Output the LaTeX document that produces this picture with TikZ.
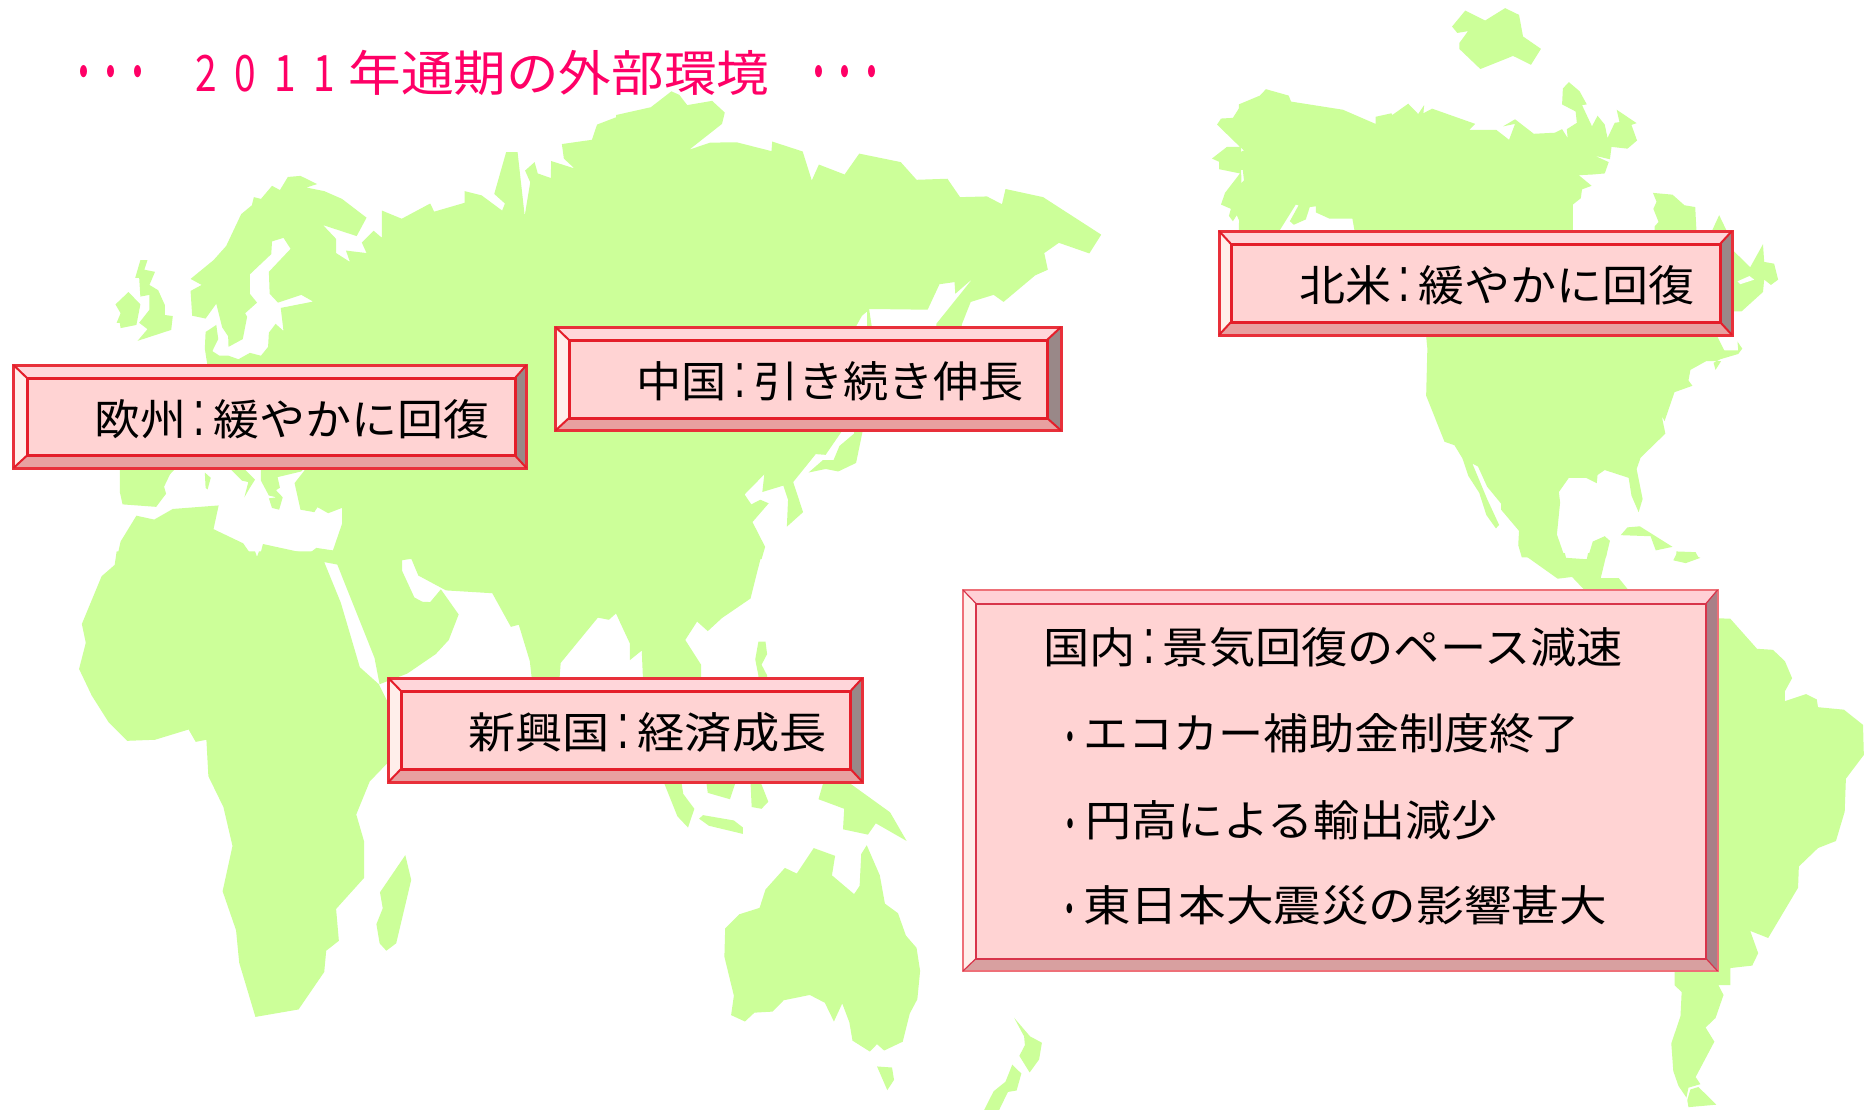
\documentclass[tikz,border=0pt]{standalone}
\usepackage{fontspec}
\usepackage{graphicx}
\setmainfont{Noto Sans CJK JP}
\newfontfamily\clnfont{Liberation Sans}
\definecolor{land}{HTML}{CCFF99}
\definecolor{titlecol}{HTML}{FF0066}
\definecolor{bvFace}{HTML}{FFD3D3}
\definecolor{bvTop}{HTML}{FFD6DA}
\definecolor{bvLeft}{HTML}{FFEEEA}
\definecolor{bvRight}{HTML}{998888}
\definecolor{bvBottom}{HTML}{E8A0A0}
\definecolor{bvLine}{HTML}{E41E2A}
\definecolor{bvOuter}{HTML}{E8303A}
\newcommand{\bevel}[8]{%
  \fill[bvFace] (#5,#6) rectangle (#7,#8);
  \fill[bvTop] (#1,#2) -- (#3,#2) -- (#7,#6) -- (#5,#6) -- cycle;
  \fill[bvLeft] (#1,#2) -- (#5,#6) -- (#5,#8) -- (#1,#4) -- cycle;
  \fill[bvRight] (#3,#2) -- (#3,#4) -- (#7,#8) -- (#7,#6) -- cycle;
  \fill[bvBottom] (#1,#4) -- (#3,#4) -- (#7,#8) -- (#5,#8) -- cycle;
  \draw[bvOuter,bvoutline] (#1,#2) rectangle (#3,#4);
  \draw[bvLine,bvinline] (#5,#6) rectangle (#7,#8);
  \draw[bvLine,bvcorner] (#1,#2) -- (#5,#6) (#3,#2) -- (#7,#6) (#1,#4) -- (#5,#8) (#3,#4) -- (#7,#8);
}
\newcommand{\sq}[2][1]{\scalebox{#1}[0.93]{#2}}
\newcommand{\cln}{\makebox[27pt][c]{\scalebox{0.9}[1.5]{\clnfont :}}}
\newcommand{\bul}{\makebox[30pt][c]{\raisebox{-11pt}{\scalebox{0.7}[1.4]{･}}}}
\newcommand{\tdot}{\makebox[26.7pt][c]{\raisebox{-8pt}{\scalebox{0.8}[1.5]{･}}}}
\newcommand{\tdig}[1]{\makebox[39.5pt][c]{\scalebox{0.72}[1]{\fontsize{54pt}{54pt}\selectfont #1}}}
\tikzset{
  landfill/.style={fill=land,draw=none},
  cropL/.style={x=0.3954pt,y=-0.35395pt},
  cropR/.style={x=0.3986pt,y=-0.35395pt},
  bvoutline/.style={line width=3pt,line join=miter},
  bvinline/.style={line width=3pt,line join=miter},
  bvcorner/.style={line width=2pt},
  boxtext/.style={font=\fontsize{46pt}{50pt}\selectfont,text=black,inner sep=0pt,anchor=base west},
  titletext/.style={font=\fontsize{52.6pt}{56pt}\selectfont,text=titlecol,inner sep=0pt,anchor=base west}
}
\begin{document}
\begin{tikzpicture}[x=1pt,y=-1pt]
\useasboundingbox (0,0) rectangle (1865,1110);
\fill[white] (0,0) rectangle (1865,1110);
% crop 1
\begin{scope}[cropL]
\fill[landfill] (1580,322) -- (1510,352) -- (1497,395) -- (1421,407) -- (1426,448) -- (1453,476) -- (1394,455) -- (1393,503) -- (1360,490) -- (1352,458) -- (1328,482) -- (1341,515) -- (1327,610) -- (1309,430) -- (1280,430) -- (1250,548) -- (1277,575) -- (1270,595) -- (1218,552) -- (1175,540) -- (1175,573) -- (1098,598) -- (1088,575) -- (1016,618) -- (966,595) -- (966,672) -- (945,652) -- (915,685) -- (927,715) -- (875,708) -- (885,740) -- (850,715) -- (850,675) -- (817,636) -- (902,667) -- (927,615) -- (865,562) -- (820,540) -- (775,530) -- (802,520) -- (760,497) -- (728,500) -- (708,537) -- (688,525) -- (660,562) -- (642,557) -- (637,580) -- (610,605) -- (572,695) -- (540,735) -- (482,788) -- (510,805) -- (482,822) -- (486,892) -- (520,900) -- (547,858) -- (562,925) -- (577,950) -- (578,980) -- (614,958) -- (625,895) -- (620,885) -- (650,855) -- (632,830) -- (632,775) -- (686,718) -- (688,682) -- (717,672) -- (735,703) -- (680,768) -- (682,830) -- (703,855) -- (762,833) -- (792,852) -- (710,870) -- (717,935) -- (697,915) -- (680,940) -- (678,980) -- (660,1005) -- (632,997) -- (603,1015) -- (578,1005) -- (555,1005) -- (537,992) -- (552,958) -- (547,918) -- (520,938) -- (518,985) -- (525,1035) -- (500,1100) -- (303,1300) -- (303,1390) -- (310,1425) -- (395,1432) -- (420,1395) -- (415,1375) -- (430,1340) -- (445,1322) -- (580,1322) -- (612,1358) -- (628,1362) -- (618,1405) -- (632,1378) -- (645,1355) -- (615,1322) -- (660,1322) -- (660,1358) -- (680,1400) -- (700,1405) -- (680,1408) -- (688,1435) -- (706,1440) -- (715,1405) -- (698,1385) -- (708,1378) -- (702,1348) -- (762,1332) -- (770,1322) -- (775,1322) -- (745,1365) -- (760,1440) -- (795,1447) -- (803,1433) -- (830,1450) -- (865,1435) -- (865,1480) -- (842,1555) -- (800,1548) -- (780,1565) -- (665,1537) -- (655,1580) -- (643,1580) -- (615,1535) -- (540,1495) -- (553,1428) -- (437,1438) -- (390,1468) -- (345,1457) -- (305,1530) -- (295,1580) -- (1580,1580) -- cycle;
\fill[landfill] (355,735) -- (373,735) -- (365,762) -- (392,768) -- (378,805) -- (400,820) -- (417,862) -- (417,890) -- (437,893) -- (433,932) -- (348,963) -- (373,930) -- (352,912) -- (378,875) -- (378,833) -- (355,838) -- (352,785) -- (342,785) -- cycle;
\fill[landfill] (325,825) -- (355,860) -- (345,918) -- (305,927) -- (303,912) -- (295,912) -- (305,885) -- (292,860) -- cycle;
\fill[landfill] (518,1335) -- (533,1350) -- (525,1383) -- (520,1378) -- cycle;
\end{scope}
% crop 2
\begin{scope}[cropL,xshift=620pt]
\fill[landfill] (-10,325) -- (78,303) -- (130,258) -- (150,268) -- (170,297) -- (233,285) -- (265,318) -- (258,350) -- (175,423) -- (228,403) -- (295,402) -- (383,427) -- (385,400) -- (462,428) -- (485,510) -- (503,465) -- (568,493) -- (605,434) -- (710,458) -- (750,508) -- (828,505) -- (860,557) -- (928,555) -- (966,577) -- (975,534) -- (1070,557) -- (1217,663) -- (1187,716) -- (1110,686) -- (1073,715) -- (1082,762) -- (1050,778) -- (970,853) -- (945,833) -- (887,853) -- (865,915) -- (850,1000) -- (800,1000) -- (800,915) -- (892,787) -- (848,830) -- (846,797) -- (808,803) -- (778,875) -- (630,873) -- (637,925) -- (625,925) -- (625,880) -- (612,892) -- (598,920) -- (560,1100) -- (560,1220) -- (520,1285) -- (495,1283) -- (438,1362) -- (463,1447) -- (422,1488) -- (425,1412) -- (413,1372) -- (360,1390) -- (365,1340) -- (315,1397) -- (332,1425) -- (355,1412) -- (376,1422) -- (335,1475) -- (367,1545) -- (358,1580) -- (-10,1580) -- cycle;
\fill[landfill] (617,1200) -- (597,1308) -- (552,1332) -- (520,1325) -- (477,1335) -- (513,1300) -- (540,1300) -- (555,1260) -- (592,1225) -- (592,1200) -- cycle;
\fill[landfill] (1570,298) -- (1550,333) -- (1520,335) -- (1510,352) -- (1568,415) -- (1535,415) -- (1497,448) -- (1515,457) -- (1515,478) -- (1568,490) -- (1530,545) -- (1520,578) -- (1545,590) -- (1540,610) -- (1550,625) -- (1560,608) -- (1572,640) -- cycle;
\end{scope}
% crop 3
\begin{scope}[cropR,xshift=1240pt]
\fill[landfill] (565,30) -- (615,58) -- (665,23) -- (700,42) -- (710,103) -- (755,138) -- (730,183) -- (685,158) -- (603,195) -- (550,138) -- (550,122) -- (572,88) -- (545,93) -- (532,75) -- cycle;
\fill[landfill] (-3,295) -- (50,270) -- (65,252) -- (122,270) -- (128,287) -- (258,310) -- (340,350) -- (340,330) -- (380,320) -- (382,325) -- (422,293) -- (447,322) -- (462,297) -- (460,320) -- (482,307) -- (590,350) -- (575,367) -- (643,367) -- (675,395) -- (690,350) -- (660,357) -- (690,337) -- (737,378) -- (790,375) -- (808,365) -- (822,390) -- (820,365) -- (845,347) -- (842,315) -- (808,295) -- (810,250) -- (825,232) -- (852,258) -- (870,295) -- (858,297) -- (883,357) -- (897,327) -- (915,352) -- (922,390) -- (940,347) -- (952,345) -- (945,310) -- (995,348) -- (982,353) -- (996,397) -- (972,420) -- (932,415) -- (928,450) -- (890,440) -- (925,458) -- (915,490) -- (885,493) -- (850,495) -- (882,525) -- (858,535) -- (855,560) -- (835,578) -- (835,700) -- (1040,700) -- (1040,640) -- (1050,627) -- (1037,590) -- (1045,570) -- (1036,545) -- (1085,550) -- (1115,580) -- (1142,585) -- (1145,650) -- (1185,650) -- (1202,608) -- (1220,650) -- (1230,700) -- (1280,755) -- (1312,690) -- (1315,740) -- (1340,745) -- (1350,790) -- (1332,805) -- (1315,790) -- (1312,825) -- (1258,880) -- (1230,880) -- (1197,950) -- (1215,990) -- (1250,990) -- (1248,965) -- (1260,985) -- (1250,1000) -- (1205,1015) -- (1188,1025) -- (1193,1045) -- (1207,1020) -- (1170,1020) -- (1130,1045) -- (1125,1075) -- (1135,1090) -- (1090,1108) -- (1065,1190) -- (1058,1175) -- (1067,1225) -- (1005,1293) -- (995,1325) -- (1010,1410) -- (1000,1447) -- (982,1400) -- (975,1350) -- (915,1328) -- (897,1342) -- (895,1365) -- (868,1350) -- (825,1350) -- (800,1390) -- (803,1420) -- (795,1510) -- (815,1575) -- (707,1575) -- (698,1540) -- (700,1500) -- (655,1440) -- (655,1423) -- (620,1375) -- (597,1318) -- (583,1310) -- (620,1410) -- (650,1483) -- (642,1493) -- (618,1455) -- (600,1392) -- (573,1345) -- (558,1295) -- (538,1258) -- (513,1248) -- (467,1118) -- (470,985) -- (467,950) -- (287,650) -- (282,618) -- (225,618) -- (190,600) -- (190,583) -- (175,585) -- (165,620) -- (135,635) -- (125,625) -- (147,580) -- (140,578) -- (100,650) -- (-3,650) -- (0,520) -- (10,510) -- (7,480) -- (0,480) -- (0,430) -- (10,425) -- (0,415) -- cycle;
\fill[white] (1248,795) -- (1278,780) -- (1290,790) -- (1255,803) -- cycle;
\fill[landfill] (873,1575) -- (885,1530) -- (915,1515) -- (928,1528) -- (918,1575) -- cycle;
\fill[landfill] (955,1512) -- (972,1490) -- (1003,1487) -- (1085,1545) -- (1043,1555) -- (1030,1515) -- cycle;
\fill[landfill] (1095,1558) -- (1143,1560) -- (1150,1575) -- (1095,1575) -- cycle;
\end{scope}
% crop 4
\begin{scope}[cropL,yshift=-555pt]
\fill[landfill] (295,-10) -- (290,28) -- (257,60) -- (207,195) -- (217,248) -- (200,322) -- (232,397) -- (275,473) -- (322,525) -- (392,522) -- (477,493) -- (495,528) -- (522,522) -- (527,625) -- (565,712) -- (588,822) -- (563,950) -- (597,1060) -- (605,1152) -- (646,1305) -- (755,1284) -- (820,1178) -- (825,1118) -- (857,1090) -- (850,1000) -- (921,912) -- (921,810) -- (901,733) -- (935,640) -- (978,590) -- (1000,600) -- (1000,420) -- (978,410) -- (958,365) -- (910,317) -- (862,135) -- (820,20) -- (853,27) -- (947,290) -- (960,365) -- (1030,335) -- (1102,280) -- (1135,240) -- (1160,168) -- (1115,97) -- (1088,133) -- (1068,132) -- (1048,120) -- (1017,45) -- (1017,15) -- (1040,10) -- (1058,58) -- (1128,100) -- (1245,108) -- (1292,203) -- (1312,197) -- (1340,300) -- (1345,350) -- (1415,350) -- (1418,305) -- (1512,177) -- (1540,183) -- (1558,165) -- (1580,200) -- (1580,-10) -- (655,-10) -- (650,5) -- (645,-10) -- cycle;
\fill[landfill] (1025,848) -- (1040,918) -- (1002,1097) -- (977,1118) -- (960,1097) -- (952,1043) -- (968,998) -- (961,953) -- cycle;
\end{scope}
% crop 5
\begin{scope}[cropL,xshift=620pt,yshift=-555pt]
\fill[landfill] (-10,-10) -- (360,-10) -- (330,123) -- (258,178) -- (222,215) -- (195,188) -- (165,240) -- (205,310) -- (205,400) -- (60,400) -- (55,270) -- (25,297) -- (25,250) -- (0,190) -- (-10,165) -- cycle;
\fill[landfill] (350,245) -- (368,245) -- (372,280) -- (358,310) -- (372,340) -- (372,400) -- (350,400) -- (350,340) -- (342,295) -- cycle;
\fill[landfill] (110,640) -- (155,640) -- (160,675) -- (188,717) -- (172,770) -- (145,738) -- cycle;
\fill[landfill] (200,745) -- (210,735) -- (288,750) -- (311,770) -- (311,788) -- (225,765) -- cycle;
\fill[landfill] (218,640) -- (293,640) -- (278,690) -- (222,672) -- cycle;
\fill[landfill] (330,640) -- (355,640) -- (375,697) -- (358,717) -- (333,712) -- cycle;
\fill[landfill] (515,640) -- (575,640) -- (683,727) -- (725,808) -- (647,758) -- (627,790) -- (564,775) -- (567,717) -- (502,690) -- cycle;
\fill[landfill] (490,828) -- (544,850) -- (536,905) -- (592,958) -- (606,935) -- (610,845) -- (624,820) -- (657,905) -- (670,985) -- (703,1012) -- (723,1075) -- (750,1110) -- (759,1175) -- (752,1255) -- (733,1295) -- (715,1375) -- (668,1400) -- (650,1382) -- (632,1403) -- (588,1372) -- (580,1320) -- (562,1267) -- (541,1318) -- (518,1265) -- (480,1243) -- (414,1258) -- (386,1290) -- (340,1293) -- (316,1318) -- (281,1300) -- (288,1245) -- (264,1135) -- (266,1055) -- (302,1015) -- (353,997) -- (368,945) -- (417,884) -- (447,900) -- cycle;
\fill[landfill] (650,1445) -- (688,1448) -- (693,1483) -- (676,1512) -- cycle;
\fill[landfill] (997,1308) -- (1037,1360) -- (1067,1378) -- (1060,1425) -- (1036,1462) -- (1010,1415) -- (1024,1385) -- (1022,1360) -- cycle;
\fill[landfill] (992,1440) -- (1015,1465) -- (1003,1513) -- (981,1517) -- (958,1570) -- (920,1570) -- (945,1515) -- (975,1488) -- cycle;
\end{scope}
% crop 6
\begin{scope}[cropR,xshift=1240pt,yshift=-555pt]
\fill[landfill] (707,-5) -- (797,67) -- (833,62) -- (865,100) -- (975,100) -- (950,65) -- (905,65) -- (920,-5) -- (873,-5) -- (870,12) -- (818,8) -- (815,-5) -- cycle;
\fill[landfill] (1087,15) -- (1118,23) -- (1155,8) -- (1130,-3) -- (1095,-3) -- cycle;
\fill[landfill] (1100,175) -- (1230,180) -- (1297,265) -- (1337,268) -- (1367,300) -- (1385,348) -- (1367,385) -- (1367,413) -- (1420,393) -- (1447,408) -- (1450,430) -- (1515,437) -- (1563,480) -- (1565,565) -- (1520,632) -- (1517,725) -- (1495,808) -- (1450,828) -- (1402,880) -- (1400,940) -- (1325,1082) -- (1280,1062) -- (1300,1125) -- (1285,1160) -- (1230,1167) -- (1230,1215) -- (1200,1215) -- (1213,1243) -- (1193,1308) -- (1168,1335) -- (1190,1375) -- (1143,1475) -- (1155,1495) -- (1125,1505) -- (1120,1533) -- (1100,1500) -- (1087,1458) -- (1082,1380) -- (1105,1303) -- (1108,1235) -- (1090,1215) -- (1090,1100) -- cycle;
\fill[landfill] (1150,1503) -- (1195,1553) -- (1125,1560) -- (1122,1540) -- (1130,1510) -- cycle;
\end{scope}
% boxes
\bevel{13.5}{365}{526.5}{468}{27}{378}{515}{455.5}
\bevel{555.5}{327}{1061}{430.5}{569}{340}{1047}{418}
\bevel{1219}{231}{1732}{335}{1231}{244}{1720}{322}
\bevel{388.5}{678}{862.5}{782}{401}{691}{850.5}{769}
\begin{scope}
\definecolor{bvTop}{HTML}{FFD0D6}
\definecolor{bvRight}{HTML}{A88088}
\definecolor{bvBottom}{HTML}{D8A0A0}
\definecolor{bvLine}{HTML}{D8344A}
\definecolor{bvOuter}{HTML}{EE7078}
\tikzset{bvoutline/.style={line width=2pt},bvinline/.style={line width=2pt},bvcorner/.style={line width=1.2pt}}
\bevel{963}{590}{1717.5}{971}{976}{603.5}{1706}{958.5}
\end{scope}
% title
\node[titletext] (title) at (70.6,92) {\sq{\tdot\tdot\tdot\hspace{35.5pt}\tdig{2}\tdig{0}\tdig{1}\tdig{1}\hspace{4pt}年通期の外部環境\hspace{36pt}\tdot\tdot\tdot}};
% labels
\node[boxtext] (eu) at (94,435.5) {\sq{欧州\cln 緩やかに回復}};
\node[boxtext] (cn) at (636,397.5) {\sq[0.982]{中国\cln 引き続き伸長}};
\node[boxtext] (na) at (1299,301) {\sq{北米\cln 緩やかに回復}};
\node[boxtext] (em) at (468,748) {\sq[1.027]{新興国\cln 経済成長}};
\node[boxtext] (jp0) at (1043,663) {\sq[1.005]{国内\cln 景気回復のペース減速}};
\node[boxtext] (jp1) at (1055,749) {\sq[0.98]{\bul\hspace{-1pt}エコカー補助金制度終了}};
\node[boxtext] (jp2) at (1055,836) {\sq{\bul 円高による輸出減少}};
\node[boxtext] (jp3) at (1054,921) {\sq[1.035]{\bul\hspace{-2pt}東日本大震災の影響甚大}};
\end{tikzpicture}
\end{document}
